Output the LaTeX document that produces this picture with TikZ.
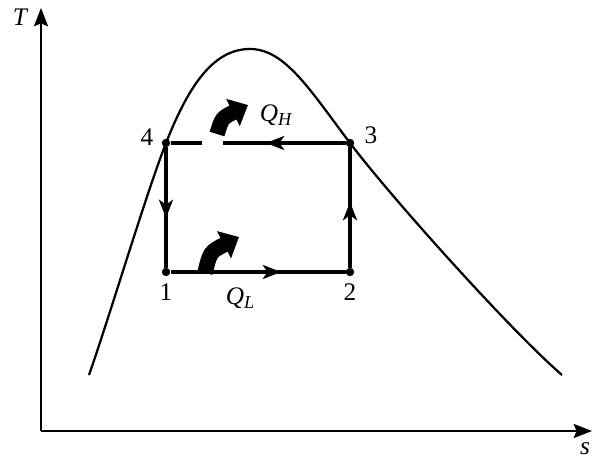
\documentclass[tikz,border=0pt]{standalone}
\usepackage{fontspec}
\setmainfont{Liberation Serif}
\usetikzlibrary{arrows.meta}

\newcommand{\qsub}[2]{\textit{#1}\raisebox{-0.35ex}{\fontsize{13}{13}\selectfont\textit{#2}}}

\tikzset{
  dot/.style={circle, fill=black, inner sep=0pt, minimum size=6pt},
  lbl/.style={font=\fontsize{18}{20}\selectfont, inner sep=1pt},
  cyc/.style={line width=2.4pt},
  cycarr/.style={cyc, -{Stealth[length=13pt, width=10pt, inset=3.5pt]}},
  axis/.style={line width=1.5pt, -{Stealth[length=13pt, width=10pt, inset=2pt]}},
  fatarr/.style={line width=11pt, -{Triangle[length=12pt, width=21pt]}},
}

\begin{document}
\begin{tikzpicture}[x=0.025cm, y=-0.025cm]
  \useasboundingbox (0,0) rectangle (592,459);
  % --- Axes ---
  \coordinate (o) at (41,431);
  \coordinate (ytop) at (41,8);
  \coordinate (xend) at (592,431);
  \draw[axis] (o) -- (ytop);
  \draw[axis] (o) -- (xend);
  \node[lbl, font=\fontsize{18}{20}\selectfont\itshape] (tlab) at (20,17) {T};
  \node[lbl, font=\fontsize{18}{20}\selectfont\itshape] (slab) at (585,449) {s};
  % --- Saturation dome ---
  \draw[line width=1.6pt] (89,375) .. controls (110,315) and (146,194) .. (166,143)
    .. controls (190,82) and (215,49) .. (250,49)
    .. controls (285,49) and (310,90) .. (350,143)
    .. controls (390,196) and (510,330) .. (562,375);
  % --- Cycle states ---
  \node[dot] (p4) at (166,143) {};
  \node[dot] (p3) at (350,143) {};
  \node[dot] (p1) at (166,272) {};
  \node[dot] (p2) at (350,272) {};
  \node[lbl] (l4) at (147,137) {4};
  \node[lbl] (l3) at (371,135) {3};
  \node[lbl] (l1) at (166,292) {1};
  \node[lbl] (l2) at (350,292) {2};
  % --- Cycle lines (gap in 3-4 for Q_H) ---
  \coordinate (g1) at (223,143);
  \coordinate (g2) at (202,143);
  \draw[cyc] (p4) -- (p1) -- (p2) -- (p3) -- (g1);
  \draw[cyc] (g2) -- (p4);
  % --- Direction arrows ---
  \coordinate (a41) at (166,218);
  \coordinate (a12) at (281,272);
  \coordinate (a23) at (350,202);
  \coordinate (a34) at (266,143);
  \draw[cycarr] (p4) -- (a41);
  \draw[cycarr] (p1) -- (a12);
  \draw[cycarr] (p2) -- (a23);
  \draw[cycarr] (p3) -- (a34);
  % --- Heat transfer arrows ---
  \coordinate (qh0) at (217,134);
  \coordinate (qh1) at (248,105);
  \draw[fatarr] (qh0) .. controls (222,118) .. (qh1);
  \node[lbl] (qhlab) at (276,115) {\qsub{Q}{H}};
  \coordinate (ql0) at (205,273);
  \coordinate (ql1) at (239,237);
  \draw[fatarr] (ql0) .. controls (210,252) .. (ql1);
  \node[lbl] (qllab) at (240,298) {\qsub{Q}{L}};
\end{tikzpicture}
\end{document}
